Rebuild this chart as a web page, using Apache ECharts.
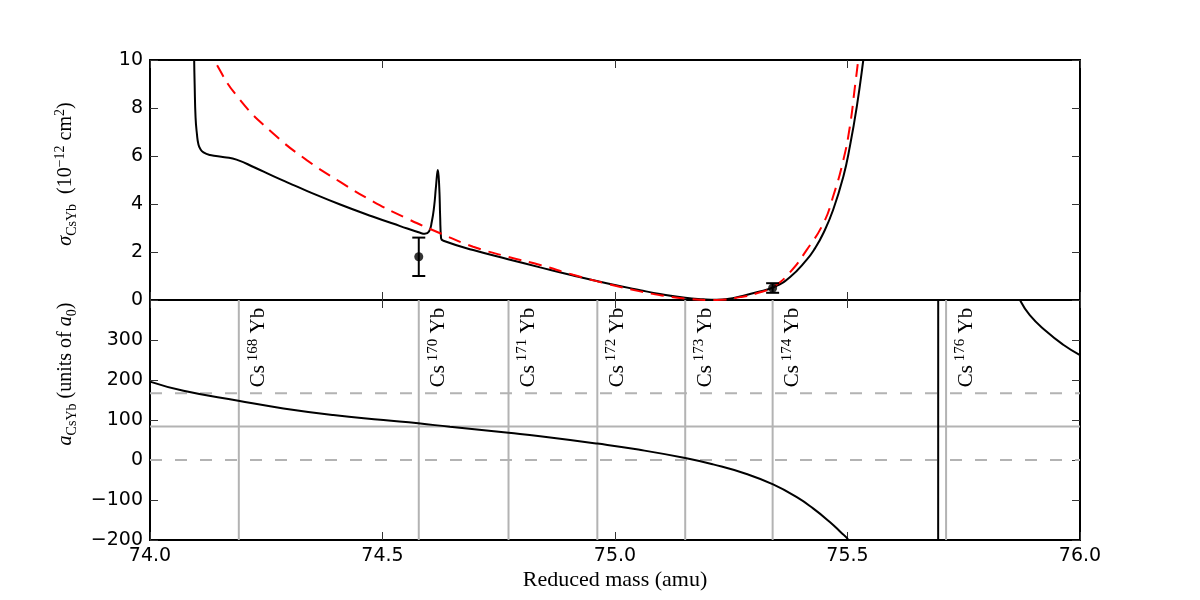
<!DOCTYPE html>
<html lang="en">
<head>
<meta charset="UTF-8">
<title>CsYb scattering</title>
<style>
    html, body { margin: 0; padding: 0; background: #fff; }
    #main { width: 1200px; height: 600px; }
</style>
</head>
<body>
<div id="main"></div>
<script src="https://cdn.jsdelivr.net/npm/echarts@6/dist/echarts.min.js"></script>
<script>
    const chart = echarts.init(document.getElementById('main'));

    // top panel: cross section (10^-12 cm^2) vs reduced mass (amu)
    const sigmaMass = [74.094, 74.095, 74.096, 74.098, 74.101, 74.104, 74.108, 74.115, 74.129, 74.160,
        74.186, 74.225, 74.265, 74.300, 74.337, 74.409, 74.480, 74.538, 74.581, 74.591,
        74.600, 74.606, 74.611, 74.615, 74.619, 74.622, 74.624, 74.626, 74.631, 74.695,
        74.770, 74.839, 74.910, 74.982, 75.054, 75.100, 75.151, 75.190, 75.219, 75.245,
        75.269, 75.305, 75.341, 75.376, 75.412, 75.430, 75.448, 75.469, 75.491, 75.505,
        75.520, 75.534, 75.540];
    const sigmaVal = [12, 10, 9, 7.6, 6.9, 6.5, 6.3, 6.15, 6.04, 5.95,
        5.85, 5.52, 5.16, 4.86, 4.55, 3.98, 3.47, 3.08, 2.80, 2.76,
        2.85, 3.26, 3.89, 4.72, 5.42, 4.72, 3.47, 2.57, 2.47, 2.08,
        1.70, 1.36, 1.02, 0.70, 0.41, 0.24, 0.09, 0.03, 0.01, 0.05,
        0.15, 0.32, 0.53, 0.95, 1.67, 2.15, 2.78, 3.75, 5.14, 6.39,
        8.06, 10, 11];

    const fitMass = [74.128, 74.140, 74.194, 74.265, 74.337, 74.409, 74.480, 74.552, 74.624, 74.695,
        74.770, 74.839, 74.910, 74.982, 75.054, 75.100, 75.151, 75.219, 75.269, 75.305,
        75.341, 75.376, 75.412, 75.448, 75.469, 75.491, 75.505, 75.516, 75.523, 75.527];
    const fitVal = [10.6, 9.93, 8.33, 6.94, 5.83, 4.92, 4.10, 3.40, 2.78, 2.22,
        1.80, 1.46, 1.05, 0.68, 0.36, 0.19, 0.06, 0.0, 0.12, 0.28,
        0.56, 1.15, 2.08, 3.19, 4.31, 5.83, 7.22, 8.89, 10, 10.8];

    const measMass = [74.578, 75.339];
    const measVal = [1.8, 0.5];
    const measErr = [0.8, 0.2];

    // bottom panel: scattering length (units of a0)
    const aMass = [74.000, 74.072, 74.190, 74.287, 74.394, 74.502, 74.577, 74.645, 74.771, 74.839,
        74.962, 75.050, 75.151, 75.211, 75.283, 75.340, 75.391, 75.426, 75.462, 75.485,
        75.502, 75.530, 75.600, 75.650, 75.694, 75.696, 75.740, 75.800, 75.840, 75.871,
        75.892, 75.928, 75.964, 76.000];
    const aVal = [196, 173, 148, 129, 112.5, 100, 91.7, 83, 68, 59.5,
        41, 26, 5, -11, -35, -61, -93, -121, -155, -180,
        -200, -260, -450, -900, -6000, 6000, 1500, 700, 480, 400,
        362, 321, 288, 262];

    const isoMass = [74.191, 74.578, 74.771, 74.962, 75.151, 75.339, 75.712];
    const isoName = ['168', '170', '171', '172', '173', '174', '176'];
    const refSolid = [83.5];
    const refDashed = [0, 167];

    const xMin = 74, xMax = 76;
    const sMin = 0, sMax = 10;
    const aMin = -200, aMax = 400;
    const labelAt = 182;   // where the rotated isotope labels start

    const zip = (xs, ys) => xs.map((x, i) => [x, ys[i]]);

    const serif = 'Liberation Serif';
    const sans = 'DejaVu Sans';
    const tickStyle = {inside: true, length: 8, lineStyle: {color: '#333', width: 1}};
    const richName = {
        m: {fontFamily: serif, fontSize: 20, lineHeight: 26, color: '#000'},
        i: {fontFamily: serif, fontSize: 20, lineHeight: 26, fontStyle: 'italic', color: '#000'},
        sub: {fontFamily: serif, fontSize: 14, verticalAlign: 'bottom', color: '#000'},
        sup: {fontFamily: serif, fontSize: 14, verticalAlign: 'top', color: '#000'}
    };
    const richIso = {
        m: {fontFamily: serif, fontSize: 21, lineHeight: 27, color: '#000'},
        s: {fontFamily: serif, fontSize: 15, verticalAlign: 'top', color: '#000'}
    };
    const minus = v => v < 0 ? '\u2212' + (-v) : String(v);

    function xAx(grid, pos, labels) {
        return {
            type: 'value', gridIndex: grid, position: pos, min: xMin, max: xMax, interval: 0.5,
            axisLine: {show: false, onZero: false}, axisTick: tickStyle, splitLine: {show: false},
            axisLabel: {show: labels, margin: 7, fontFamily: sans, fontSize: 19, color: '#000',
                formatter: v => v.toFixed(1)}
        };
    }
    function yAx(grid, pos, labels, min, max, step, hide) {
        return {
            type: 'value', gridIndex: grid, position: pos, min: min, max: max, interval: step,
            axisLine: {show: false, onZero: false}, axisTick: tickStyle, splitLine: {show: false},
            axisLabel: {show: labels, margin: 7, fontFamily: sans, fontSize: 19, color: '#000',
                formatter: v => v === hide ? '' : minus(v)}
        };
    }

    // vertical isotope lines with rotated labels
    function isoItem(params, api) {
        const m = api.value(0);
        const top = api.coord([m, aMax]);
        const bot = api.coord([m, aMin]);
        const lab = api.coord([m, labelAt]);
        return {
            type: 'group',
            children: [{
                type: 'line',
                shape: {x1: top[0], y1: top[1], x2: bot[0], y2: bot[1]},
                style: {stroke: '#b3b3b3', lineWidth: 2}
            }, {
                type: 'text',
                x: lab[0] + 20, y: lab[1], rotation: Math.PI / 2,
                style: {
                    text: '{m|Cs}{s| ' + isoName[params.dataIndex] + '}{m| Yb}',
                    rich: richIso, align: 'left', verticalAlign: 'middle'
                }
            }]
        };
    }

    // error bars of the measured points
    function errItem(params, api) {
        const m = api.value(0), v = api.value(1), e = api.value(2);
        const hi = api.coord([m, v + e]);
        const lo = api.coord([m, v - e]);
        const w = 6.5;
        const st = {stroke: '#000', lineWidth: 2};
        return {
            type: 'group',
            children: [
                {type: 'line', shape: {x1: hi[0], y1: hi[1], x2: lo[0], y2: lo[1]}, style: st},
                {type: 'line', shape: {x1: hi[0] - w, y1: hi[1], x2: hi[0] + w, y2: hi[1]}, style: st},
                {type: 'line', shape: {x1: lo[0] - w, y1: lo[1], x2: lo[0] + w, y2: lo[1]}, style: st}
            ]
        };
    }

    const refSeries = [];
    refDashed.forEach(v => refSeries.push({
        type: 'line', xAxisIndex: 2, yAxisIndex: 2, data: [[xMin, v], [xMax, v]],
        symbol: 'none', silent: true, z: 1,
        lineStyle: {color: '#b3b3b3', width: 2, type: [12, 13]}
    }));
    refSolid.forEach(v => refSeries.push({
        type: 'line', xAxisIndex: 2, yAxisIndex: 2, data: [[xMin, v], [xMax, v]],
        symbol: 'none', silent: true, z: 1,
        lineStyle: {color: '#b3b3b3', width: 2}
    }));

    const option = {
        animation: false,
        backgroundColor: '#fff',
        grid: [
            {left: 150, top: 60, width: 930, height: 240, show: true, borderColor: '#000', borderWidth: 2},
            {left: 150, top: 300, width: 930, height: 240, show: true, borderColor: '#000', borderWidth: 2}
        ],
        xAxis: [
            xAx(0, 'bottom', false),
            xAx(0, 'top', false),
            xAx(1, 'bottom', true),
            xAx(1, 'top', false)
        ],
        yAxis: [
            yAx(0, 'left', true, sMin, sMax, 2, null),
            yAx(0, 'right', false, sMin, sMax, 2, null),
            yAx(1, 'left', true, aMin, aMax, 100, aMax),
            yAx(1, 'right', false, aMin, aMax, 100, aMax)
        ],
        graphic: [{
            type: 'text', x: 66, y: 174, rotation: Math.PI / 2,
            style: {
                text: '{i|σ}{sub|CsYb}{m|  (10}{sup|−12}{m| cm}{sup|2}{m|)}',
                rich: richName, align: 'center', verticalAlign: 'middle'
            }
        }, {
            type: 'text', x: 66, y: 374, rotation: Math.PI / 2,
            style: {
                text: '{i|a}{sub|CsYb}{m| (units of }{i|a}{sub|0}{m|)}',
                rich: richName, align: 'center', verticalAlign: 'middle'
            }
        }, {
            type: 'text', x: 615, y: 580,
            style: {
                text: 'Reduced mass (amu)', fontFamily: serif, fontSize: 22, fill: '#000',
                align: 'center', verticalAlign: 'middle'
            }
        }],
        series: [
            {
                type: 'custom', xAxisIndex: 2, yAxisIndex: 2, z: 1, silent: true,
                data: isoMass.map(m => [m, 0]),
                renderItem: isoItem
            },
            ...refSeries,
            {
                type: 'line', xAxisIndex: 2, yAxisIndex: 2, z: 3,
                data: zip(aMass, aVal), symbol: 'none', smooth: 0.5,
                lineStyle: {color: '#000', width: 2}
            },
            {
                type: 'line', xAxisIndex: 0, yAxisIndex: 0, z: 3,
                data: zip(sigmaMass, sigmaVal), symbol: 'none', smooth: 0.5,
                lineStyle: {color: '#000', width: 2}
            },
            {
                type: 'line', xAxisIndex: 0, yAxisIndex: 0, z: 4,
                data: zip(fitMass, fitVal), symbol: 'none', smooth: 0.5,
                lineStyle: {color: '#ff0000', width: 2, type: [13, 8]}
            },
            {
                type: 'custom', xAxisIndex: 0, yAxisIndex: 0, z: 5,
                data: measMass.map((m, i) => [m, measVal[i], measErr[i]]),
                renderItem: errItem
            },
            {
                type: 'scatter', xAxisIndex: 0, yAxisIndex: 0, z: 6,
                data: zip(measMass, measVal), symbol: 'circle', symbolSize: 9,
                itemStyle: {color: '#000'}
            }
        ]
    };

    chart.setOption(option);
</script>
</body>
</html>
